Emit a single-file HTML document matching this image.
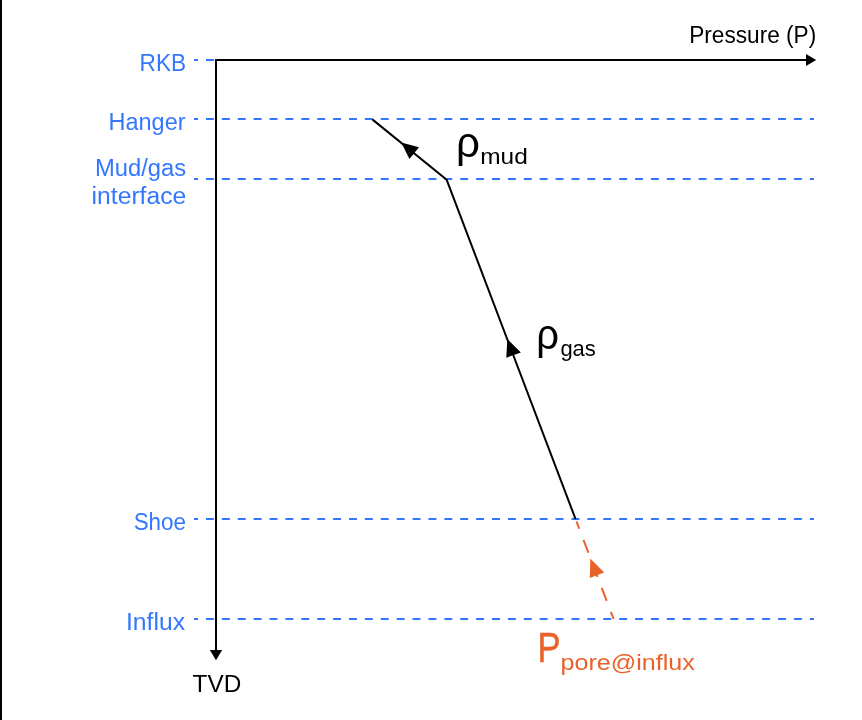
<!DOCTYPE html>
<html>
<head>
<meta charset="utf-8">
<style>
html,body{margin:0;padding:0;background:#fff;width:862px;height:720px;overflow:hidden;}
svg{display:block;position:absolute;left:0;top:0;will-change:transform;}
text{font-family:"Liberation Sans",sans-serif;}
</style>
</head>
<body>
<svg width="862" height="720" viewBox="0 0 862 720">
<rect x="0" y="0" width="862" height="720" fill="#ffffff"/>
<rect x="0" y="0" width="2" height="720" fill="#000"/>

<!-- orange dashed (under blue) -->
<line x1="576.48" y1="521.45" x2="613.6" y2="619" stroke="#e8622a" stroke-width="2" stroke-dasharray="13.8 11.9" stroke-dashoffset="6.0"/>
<!-- blue dashed guide lines -->
<g stroke="#3377ff" stroke-width="2" fill="none" stroke-dasharray="7.945 7.945" stroke-dashoffset="3.9">
  <line x1="194" y1="60" x2="215" y2="60"/>
  <line x1="194" y1="119" x2="814" y2="119"/>
  <line x1="194" y1="179" x2="814" y2="179"/>
  <line x1="194" y1="519" x2="814" y2="519"/>
  <line x1="194" y1="619" x2="814" y2="619"/>
</g>

<!-- axes -->
<path d="M216 650.5 L216 60 L806.5 60" stroke="#000" stroke-width="2" fill="none" stroke-linejoin="miter"/>
<polygon points="806,53.9 816.2,60 806,66.1" fill="#000"/>
<polygon points="209.85,650 222.15,650 216,660.2" fill="#000"/>

<!-- pressure profile -->
<polyline points="372.3,119.4 446.7,179.8 575.6,519.2" stroke="#000" stroke-width="2" fill="none" stroke-linejoin="round"/>
<polygon points="401.29,142.48 419.0,147.3 409.4,159.0" fill="#000"/>
<polygon points="507.34,338.98 520.9,352.6 506.3,357.7" fill="#000"/>

<!-- orange dashed -->
<polygon points="590.3,558.4 604.2,572.5 589.8,578.1" fill="#e8622a"/>

<!-- labels -->
<g fill="#3377ff">
  <text x="139.60" y="70.50" font-size="23.3" textLength="46.44" lengthAdjust="spacingAndGlyphs">RKB</text>
  <text x="108.50" y="130.30" font-size="23.3" textLength="77.04" lengthAdjust="spacingAndGlyphs">Hanger</text>
  <text x="95.00" y="176.10" font-size="23.3" textLength="91.21" lengthAdjust="spacingAndGlyphs">Mud/gas</text>
  <text x="91.60" y="203.90" font-size="23.3" textLength="94.65" lengthAdjust="spacingAndGlyphs">interface</text>
  <text x="133.65" y="529.60" font-size="23.3" textLength="52.38" lengthAdjust="spacingAndGlyphs">Shoe</text>
  <text x="126.00" y="629.60" font-size="23.3" textLength="59.07" lengthAdjust="spacingAndGlyphs">Influx</text>
</g>
<g fill="#000">
  <text x="689.20" y="43.00" font-size="23.3" textLength="127.08" lengthAdjust="spacingAndGlyphs">Pressure (P)</text>
  <text x="192.60" y="691.50" font-size="23.3" textLength="48.65" lengthAdjust="spacingAndGlyphs">TVD</text>
  <text x="456.00" y="157.00" font-size="42" textLength="23.97" lengthAdjust="spacingAndGlyphs">ρ</text>
  <text x="480.20" y="164.10" font-size="22.5" textLength="47.55" lengthAdjust="spacingAndGlyphs">mud</text>
  <text x="536.20" y="348.70" font-size="42" textLength="22.80" lengthAdjust="spacingAndGlyphs">ρ</text>
  <text x="560.40" y="355.60" font-size="22.5" textLength="35.46" lengthAdjust="spacingAndGlyphs">gas</text>
</g>
<g fill="#e8622a">
  <text x="537.60" y="662.10" font-size="43" textLength="23.02" lengthAdjust="spacingAndGlyphs" stroke="#e8622a" stroke-width="0.5">P</text>
  <text x="560.60" y="669.50" font-size="22.5" textLength="134.17" lengthAdjust="spacingAndGlyphs">pore@influx</text>
</g>
</svg>
</body>
</html>
